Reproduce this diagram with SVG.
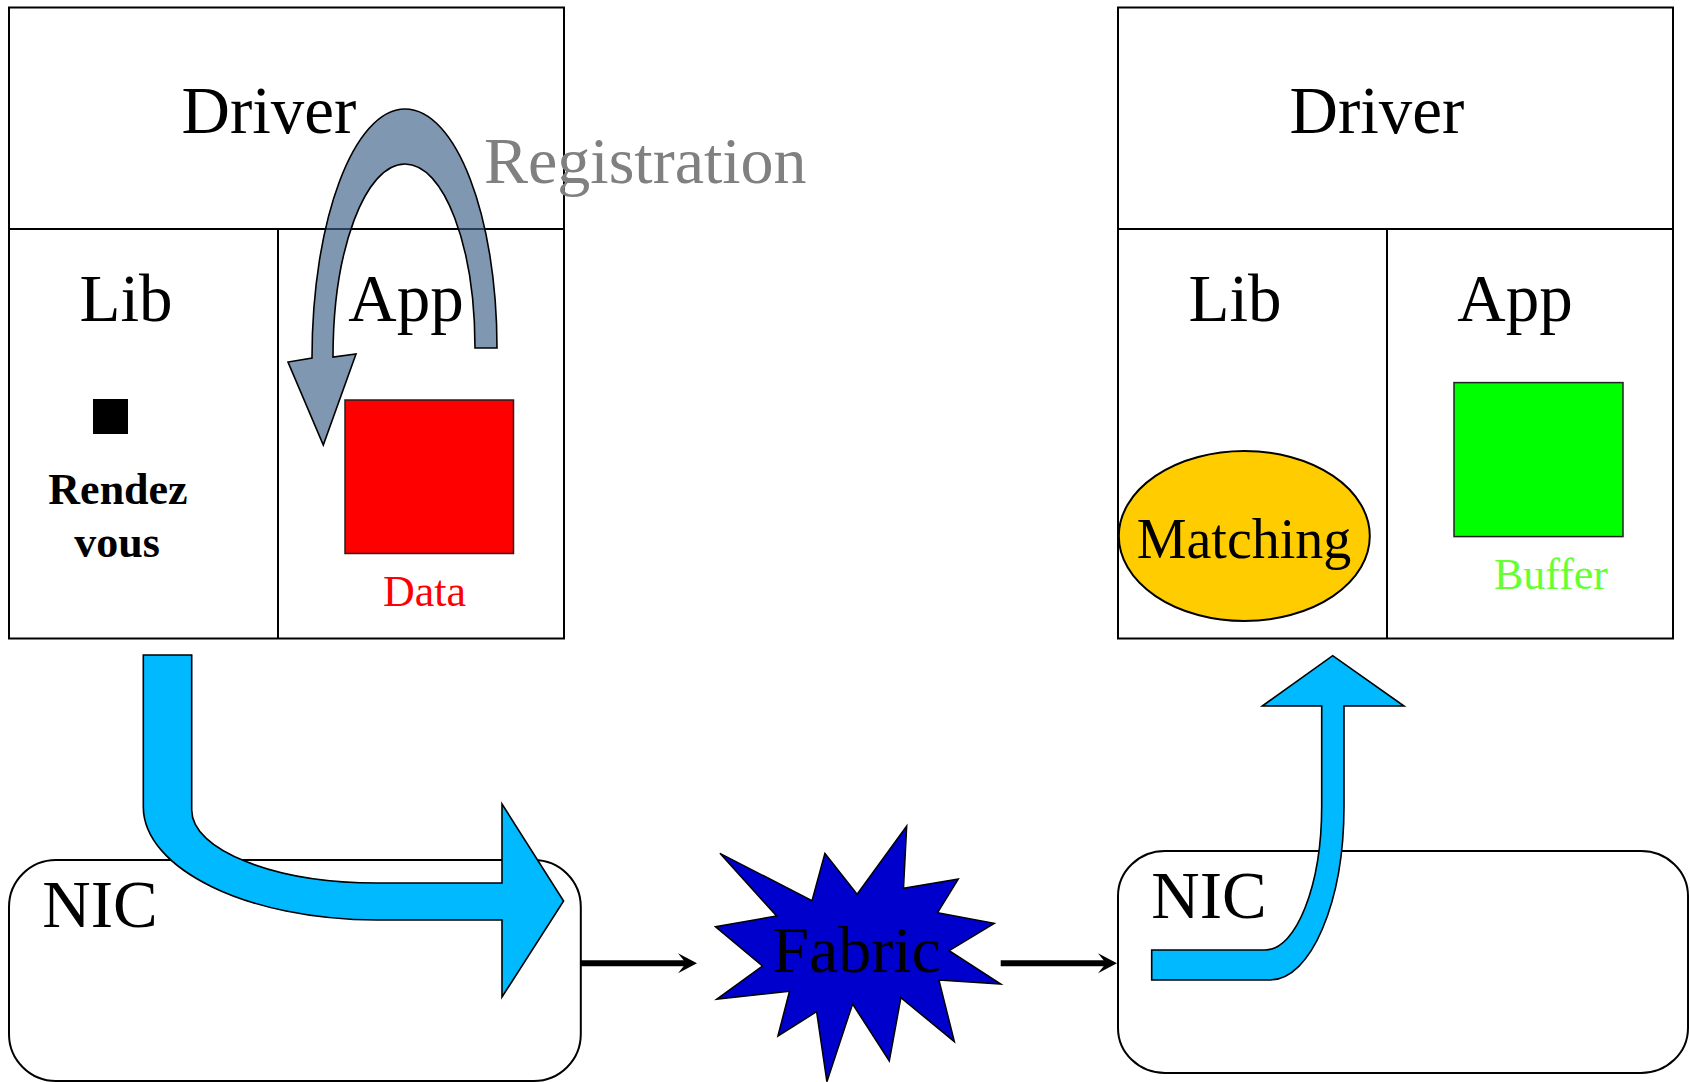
<svg xmlns="http://www.w3.org/2000/svg" width="1690" height="1082" viewBox="0 0 1690 1082">
  <style>
    text { font-family: "Liberation Serif", "Times New Roman", serif; }
    .frame { fill: none; stroke: #000; stroke-width: 2; }
    .big { font-size: 67px; fill: #000; text-anchor: middle; }
    .small { font-size: 44px; text-anchor: middle; }
    .flow { fill: #00B9FF; stroke: #000; stroke-width: 1.6; stroke-linejoin: miter; }
    .link { stroke: #000; stroke-width: 6; fill: none; marker-end: url(#head); }
  </style>
  <defs>
    <marker id="head" markerUnits="userSpaceOnUse" markerWidth="20" markerHeight="22" viewBox="0 -11 20 22" refX="12" refY="0" orient="auto">
      <path d="M0,-10 L19,0 L0,10 L8,0 Z" fill="#000"/>
    </marker>
  </defs>

  <rect width="1690" height="1082" fill="#fff"/>

  <!-- sending host: driver / lib / app -->
  <g id="host-send">
    <rect class="frame" x="9" y="7.5" width="555" height="631"/>
    <line class="frame" x1="9" y1="229" x2="564" y2="229"/>
    <line class="frame" x1="278" y1="229" x2="278" y2="638.5"/>
    <text class="big" x="269" y="133">Driver</text>
    <text class="big" x="126" y="321">Lib</text>
    <text class="big" x="406" y="321">App</text>
    <rect x="93" y="399" width="35" height="35" fill="#000"/>
    <text class="small" x="118" y="504" font-weight="bold">Rendez</text>
    <text class="small" x="117" y="557" font-weight="bold">vous</text>
    <rect x="345" y="400" width="168.5" height="153.5" fill="#FF0000" stroke="#222" stroke-width="1.5"/>
    <text class="small" x="424.5" y="606" fill="#FF0000">Data</text>
  </g>

  <!-- receiving host: driver / lib / app -->
  <g id="host-recv">
    <rect class="frame" x="1118" y="7.5" width="555" height="631"/>
    <line class="frame" x1="1118" y1="229" x2="1673" y2="229"/>
    <line class="frame" x1="1387" y1="229" x2="1387" y2="638.5"/>
    <text class="big" x="1377" y="133">Driver</text>
    <text class="big" x="1235" y="321">Lib</text>
    <text class="big" x="1515" y="321">App</text>
    <rect x="1454" y="382.6" width="169" height="154" fill="#00FF00" stroke="#222" stroke-width="1.5"/>
    <text class="small" x="1551" y="589" fill="#66FF33">Buffer</text>
  </g>

  <g id="matching">
    <ellipse cx="1244.3" cy="536" rx="125.5" ry="85" fill="#FFCC00" stroke="#000" stroke-width="2"/>
    <text x="1244" y="557.6" font-size="56" text-anchor="middle">Matching</text>
  </g>

  <g id="nic-send">
    <rect class="frame" x="9" y="860" width="571.8" height="221" rx="47" ry="47"/>
    <text class="big" x="100" y="927">NIC</text>
  </g>

  <g id="nic-recv">
    <rect class="frame" x="1118" y="851" width="570" height="222" rx="47" ry="45"/>
    <text class="big" x="1209" y="917.7">NIC</text>
  </g>

  <g id="fabric">
    <polygon points="906.7,826 903.5,888.3 958.3,879 937.6,912.7 994.3,923.3 949.2,950.7 1000.8,984 938.9,980 954.4,1041.7 900.9,997.7 889.3,1061 852.6,1004 826.9,1081.7 816.6,1011.7 777.9,1036 789.5,991.3 716.7,999.3 762.4,966 715.4,926.7 776.6,916 719.9,853.3 812,900.7 824.9,853.3 857.1,894.3" fill="#0000CC" stroke="#000" stroke-width="1.5" stroke-linejoin="miter"/>
    <text x="856.5" y="971.7" font-size="66" text-anchor="middle">Fabric</text>
  </g>

  <g id="connectors">
    <!-- registration loop over the app area -->
    <path d="M475,348 L497,348 C497,216 456,109 405,109 C354,109 312,220 312,358 L288,362 L323.3,445 L356,354 L333,357 C333,250 365,164 405,164 C444,164 475,246 475,348 Z" fill="rgb(60,95,135)" fill-opacity="0.65" stroke="#000" stroke-width="1.6"/>
    <text x="484" y="183" font-size="66" fill="#808080">Registration</text>

    <!-- data path from lib down into the sending NIC -->
    <path class="flow" d="M143.3,655 L191.7,655 L191.7,810 C191.7,850.3 274.7,883 377,883 L502,883 L502,804 L563.6,901 L502,997 L502,920 L377,920 C247.8,920 143.3,868.9 143.3,806.7 Z"/>

    <!-- wire hops through the fabric -->
    <line class="link" x1="580.7" y1="963.3" x2="690" y2="963.3"/>
    <line class="link" x1="1000.7" y1="963.3" x2="1110" y2="963.3"/>

    <!-- receiving NIC up into the lib -->
    <path class="flow" d="M1151.7,950 L1265,950 C1296.3,950 1321.7,885.5 1321.7,806 L1321.7,706 L1262.3,706 L1332.7,655.7 L1404,706 L1344,706 L1344,806 C1344,902 1310.9,980 1270,980 L1151.7,980 Z"/>
  </g>
</svg>
